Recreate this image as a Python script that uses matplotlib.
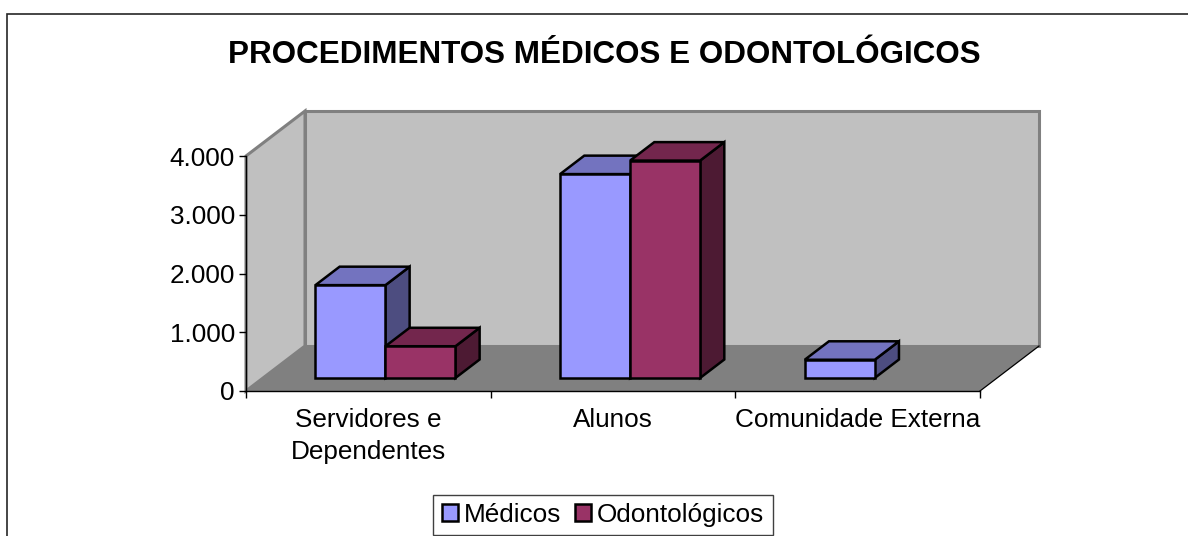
import matplotlib
matplotlib.use("Agg")
import matplotlib.pyplot as plt
from matplotlib.lines import Line2D
from matplotlib.patches import Polygon, Patch

plt.rcParams['font.family'] = ['Liberation Sans', 'DejaVu Sans']

# --- data ---
categories = ["Servidores e\nDependentes", "Alunos", "Comunidade Externa"]
medicos = [1580, 3470, 310]
odontologicos = [540, 3700, 0]
y_ticks = [0, 1000, 2000, 3000, 4000]
y_labels = ["0", "1.000", "2.000", "3.000", "4.000"]
title = "PROCEDIMENTOS MÉDICOS E ODONTOLÓGICOS"
series_names = ["Médicos", "Odontológicos"]

W, H = 1188, 536
fig = plt.figure(figsize=(W / 100, H / 100), dpi=100, facecolor="white")
L, R, T, B = 246, 980, 156, 391
ax = fig.add_axes([L / W, 1 - B / H, (R - L) / W, (B - T) / H])
ax.set_xlim(0, 3)
ax.set_ylim(0, 4000)
ax.patch.set_visible(False)

# depth of the 3-D box, in axis units
DX, DY = 59 / 244.67, 45 / 235 * 4000


def proj(x, y, z):
    return (x + z * DX, y + z * DY)


def face(points, color, edge, lw, zo):
    ax.add_patch(Polygon([proj(*p) for p in points], closed=True, facecolor=color,
                         edgecolor=edge, linewidth=lw, zorder=zo, clip_on=False,
                         joinstyle="miter"))


GRAY = "#808080"
WALL = "#c0c0c0"
YMAX, XMAX = 4000, 3
# back wall, side wall, floor
face([(0, 0, 1), (XMAX, 0, 1), (XMAX, YMAX, 1), (0, YMAX, 1)], WALL, GRAY, 2.2, 1)
face([(0, 0, 0), (0, 0, 1), (0, YMAX, 1), (0, YMAX, 0)], WALL, GRAY, 2.2, 1)
face([(0, 0, 0), (XMAX, 0, 0), (XMAX, 0, 1), (0, 0, 1)], GRAY, "none", 0, 2)
# thin black floor edge on the right
ax.plot([XMAX, XMAX + DX], [0, DY], color="black", lw=0.9, zorder=3, clip_on=False)

BAR_W = 70 / 244.67
Z0, Z1 = 0.29, 0.70
colors = {"m": ("#9999ff", "#7373bf", "#4d4d80"),
          "o": ("#993366", "#73264d", "#4d1a33")}


def bar3d(x0, v, key, zo):
    x1 = x0 + BAR_W
    front, top, side = colors[key]
    lw = 1.8
    face([(x1, 0, Z0), (x1, 0, Z1), (x1, v, Z1), (x1, v, Z0)], side, "black", lw, zo)
    face([(x0, v, Z0), (x1, v, Z0), (x1, v, Z1), (x0, v, Z1)], top, "black", lw, zo)
    face([(x0, 0, Z0), (x1, 0, Z0), (x1, v, Z0), (x0, v, Z0)], front, "black", lw, zo)


zo = 5
for i in range(len(categories)):
    start = i + 0.5 - BAR_W
    if medicos[i] > 0:
        bar3d(start, medicos[i], "m", zo)
    zo += 1
    if odontologicos[i] > 0:
        bar3d(start + BAR_W, odontologicos[i], "o", zo)
    zo += 1

# axes
for s in ("top", "right"):
    ax.spines[s].set_visible(False)
for s in ("left", "bottom"):
    ax.spines[s].set_linewidth(1.0)
    ax.spines[s].set_color("black")
    ax.spines[s].set_zorder(4)
FS = 18.8
ax.set_yticks(y_ticks)
ax.set_yticklabels(y_labels, fontsize=FS)
ax.tick_params(axis="y", length=5, width=1, pad=3)
ax.set_xticks([0, 1, 2, 3])
ax.set_xticklabels([])
ax.tick_params(axis="x", which="major", length=5, width=1)
ax.set_xticks([0.5, 1.5, 2.5], minor=True)
ax.set_xticklabels(categories, minor=True, fontsize=FS, linespacing=1.43)
ax.tick_params(axis="x", which="minor", length=0, pad=12)

fig.text(604 / W, 1 - 63 / H, title, fontsize=22.55, fontweight="bold",
         ha="center", va="baseline")

# legend
handles = [Patch(facecolor=colors["m"][0], edgecolor="black", linewidth=1.8),
           Patch(facecolor=colors["o"][0], edgecolor="black", linewidth=1.8)]
leg = fig.legend(handles, series_names, loc="center", ncol=2,
                 bbox_to_anchor=(603 / W, 1 - 515 / H), fontsize=FS,
                 fancybox=False, framealpha=1, edgecolor="#404040",
                 handlelength=0.62, handleheight=0.62, handletextpad=0.22,
                 columnspacing=0.55, borderpad=0.32, borderaxespad=0)
leg.get_frame().set_linewidth(1.0)

# chart-area border: open on the right and at the bottom of the crop
fig.add_artist(Line2D([7 / W, 7 / W, 1], [0, 1 - 14 / H, 1 - 14 / H],
                      transform=fig.transFigure, color="#262626", linewidth=1.2,
                      solid_joinstyle="miter"))

fig.savefig("out.png", dpi=100)
